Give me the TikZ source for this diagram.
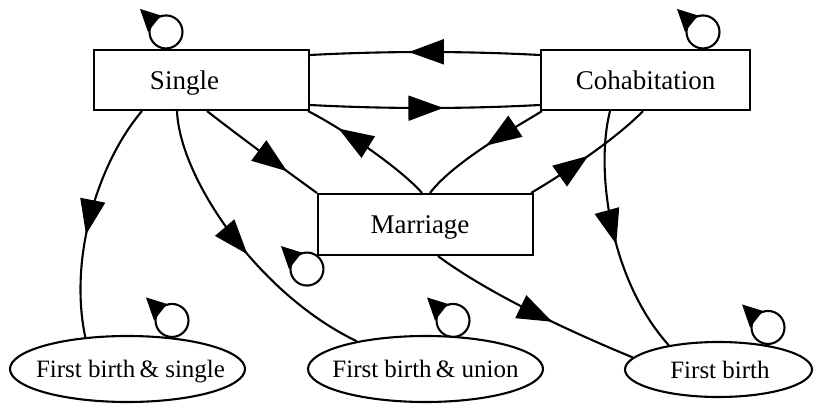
\documentclass[tikz,border=0pt]{standalone}
\usepackage{fontspec}
\setmainfont{Liberation Serif}
\usetikzlibrary{arrows.meta,calc,decorations.markings,shapes.geometric}
\pgfdeclarelayer{bg}
\pgfsetlayers{bg,main}
\tikzset{
  box/.style={draw, line width=2.1pt, fill=white, rectangle, inner sep=0pt, text depth=0pt,
    font=\fontsize{27}{30}\selectfont},
  oval/.style={draw, line width=2.1pt, fill=white, ellipse, inner sep=0pt, text depth=0pt,
    font=\fontsize{25}{28}\selectfont},
  edge/.style={line width=2.1pt},
  midarrow/.style={edge, postaction={decorate}, decoration={markings,
    mark=at position #1 with {\arrow{Triangle[length=35pt,width=25pt]}}}},
  selfloop/.pic={
    \draw[edge] (0,0) circle[radius=16.5pt];
    \fill (-26,-23) -- (-18,0) -- (-5,-16.5) -- cycle;
  }
}
\begin{document}
\begin{tikzpicture}[x=1pt,y=-1pt]
\useasboundingbox (0,0) rectangle (817,404);
% nodes
\node[box, minimum width=215, minimum height=60] (single) at (201.5,80) {\hspace*{-34pt}Single};
\node[box, minimum width=209, minimum height=60] (cohab) at (645.5,80) {Cohabitation};
\node[box, minimum width=215, minimum height=61] (marriage) at (425.5,224.5) {\hspace*{-11pt}Marriage};
\node[oval, minimum width=235, minimum height=66] (fbs) at (127.5,369) {\makebox[0pt]{\hspace*{6pt}First birth\hspace{-2pt} \& single}};
\node[oval, minimum width=235, minimum height=66] (fbu) at (425.5,369) {\makebox[0pt]{First birth\hspace{-2pt} \& union}};
\node[oval, minimum width=187, minimum height=55] (fb) at (718.5,369.5) {\makebox[0pt]{\hspace*{3pt}First birth}};
\begin{pgfonlayer}{bg}
\fill[white] (0,0) rectangle (817,404);
% self loops
\pic at ($(single.north)+(-35.5,-17)$) {selfloop};
\pic at ($(cohab.north)+(57.5,-17)$) {selfloop};
\pic at ($(marriage.south west)+(-10,13)$) {selfloop};
\pic at ($(fbs.north)+(44.5,-14.5)$) {selfloop};
\pic at ($(fbu.north)+(27.5,-14.5)$) {selfloop};
\pic at ($(fb.north)+(49.5,-13.5)$) {selfloop};
% edges
\draw[midarrow=0.57] ([yshift=25pt]cohab.west) .. controls (464,51) and (386,51) .. ([yshift=25pt]single.east);
\draw[midarrow=0.58] ([yshift=-25pt]single.east) .. controls (386,109) and (464,109) .. ([yshift=-25pt]cohab.west);
\draw[midarrow=0.73] ([xshift=5.5pt]single.south) .. controls (235,133) and (285,170) .. (marriage.north west);
\draw[midarrow=0.75] ([xshift=-3.5pt]marriage.north) .. controls (402,170) and (345,130) .. ([xshift=-2pt]single.south east);
\draw[midarrow=0.47] ([xshift=2pt]cohab.south west) .. controls (525,122) and (455,160) .. ([xshift=4.5pt]marriage.north);
\draw[midarrow=0.49] ([xshift=-3pt]marriage.north east) .. controls (560,176) and (615,140) .. ([xshift=-2.5pt]cohab.south);
\draw[midarrow=0.57] ([xshift=-59.5pt]single.south) .. controls (100,160) and (68,255) .. (fbs.143);
\draw[midarrow=0.535] ([xshift=-24.5pt]single.south) .. controls (180,180) and (260,295) .. (fbu.158);
\draw[midarrow=0.60] ([xshift=12.5pt]marriage.south) .. controls (470,280) and (530,315) .. (fb.172);
\draw[midarrow=0.54] ([xshift=-35.5pt]cohab.south) .. controls (595,170) and (610,280) .. (fb.154);
\end{pgfonlayer}
\end{tikzpicture}
\end{document}
